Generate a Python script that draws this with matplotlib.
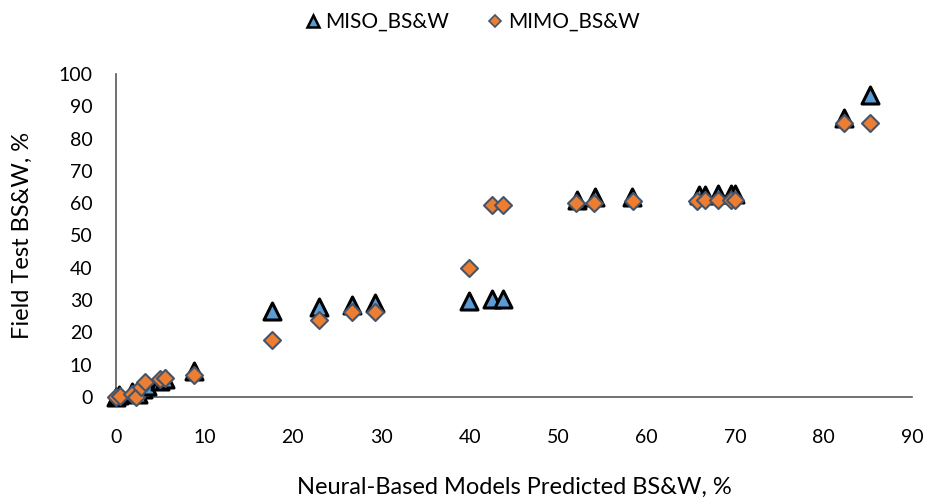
import matplotlib
matplotlib.use("Agg")
from matplotlib import pyplot as plt
from matplotlib.lines import Line2D

plt.rcParams['font.family'] = ['Lato', 'DejaVu Sans']

# MISO series (predicted vs field test)
miso_x = [0, 0.3, 1.8, 2.5, 3.0, 3.5, 5.0, 5.5, 8.8,
          17.6, 22.9, 26.7, 29.3, 39.9, 42.5, 43.8,
          52.1, 54.2, 58.3, 65.9, 66.6, 68.1, 69.5, 70.0,
          82.3, 85.3]
miso_y = [0, 0.5, 1.5, 1.0, 2.5, 3.5, 5.0, 5.5, 8.0,
          26.5, 28.0, 28.6, 29.0, 29.8, 30.3, 30.3,
          61.0, 62.0, 62.0, 62.5, 62.5, 63.0, 63.0, 63.0,
          86.3, 93.5]

# MIMO series
mimo_x = [0, 0.5, 1.8, 2.3, 2.8, 3.3, 5.0, 5.5, 8.8,
          17.6, 22.9, 26.7, 29.3, 39.9, 42.5, 43.8,
          52.0, 54.1, 58.4, 65.7, 66.6, 68.1, 69.5, 70.0,
          82.3, 85.3]
mimo_y = [0, 0.3, 1.0, 0, 3.0, 4.5, 5.5, 6.0, 6.8,
          17.7, 23.8, 26.2, 26.3, 39.9, 59.4, 59.5,
          60.0, 60.0, 60.8, 60.8, 61.0, 61.0, 61.0, 61.0,
          84.7, 84.7]

fig = plt.figure(figsize=(9.28, 5.0), dpi=100)
ax = fig.add_axes([116/928, 1-397/500, (912-116)/928, (397-74)/500])

ax.scatter(miso_x, miso_y, marker='^', s=150, facecolor='#5B9BD5',
           edgecolor='black', linewidth=2.2, zorder=3, clip_on=False)
ax.scatter(mimo_x, mimo_y, marker='D', s=75, facecolor='#ED7D31',
           edgecolor='#44546A', linewidth=1.5, zorder=4, clip_on=False)

ax.set_xlim(0, 90)
ax.set_ylim(0, 100)
ax.set_xticks(range(0, 91, 10))
ax.set_yticks(range(0, 101, 10))
ax.tick_params(length=0, labelsize=14)
ax.tick_params(axis='x', pad=23)
ax.tick_params(axis='y', pad=17)

for s in ['top', 'right']:
    ax.spines[s].set_visible(False)
for s in ['left', 'bottom']:
    ax.spines[s].set_color('#595959')
    ax.spines[s].set_linewidth(1.2)

fig.text(514/928, 1-487/500, 'Neural-Based Models Predicted BS&W, %',
         fontsize=17, ha='center', va='center')
fig.text(22/928, 1-235/500, 'Field Test BS&W, %', fontsize=17,
         rotation=90, ha='center', va='center')

handles = [
    Line2D([], [], linestyle='none', marker='^', markersize=8,
           markerfacecolor='#5B9BD5', markeredgecolor='black',
           markeredgewidth=1.8),
    Line2D([], [], linestyle='none', marker='D', markersize=6.5,
           markerfacecolor='#ED7D31', markeredgecolor='#44546A',
           markeredgewidth=1.2),
]
fig.legend(handles, ['MISO_BS&W', 'MIMO_BS&W'], loc='center',
           bbox_to_anchor=(470/928, 1-22/500), ncol=2, frameon=False,
           fontsize=15, handletextpad=0.0, columnspacing=1.6,
           handlelength=1.2)

fig.savefig('out.png', dpi=100)
